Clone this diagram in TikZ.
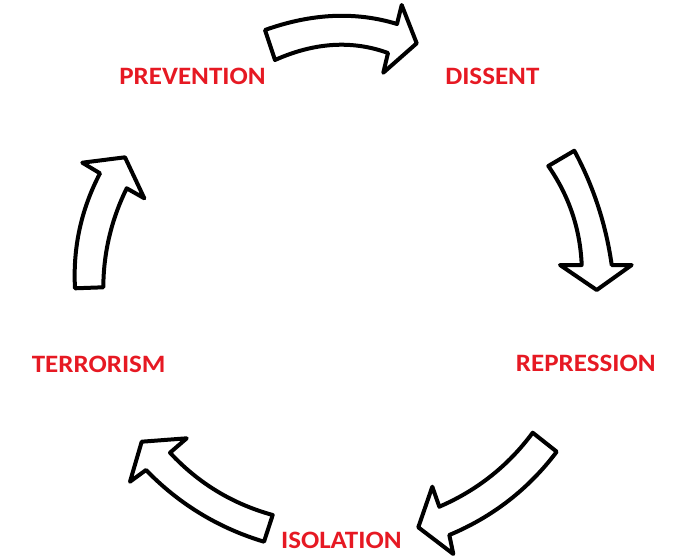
\documentclass[tikz,border=0pt]{standalone}
\usepackage{fontspec}
\setmainfont{Carlito}
\definecolor{stagered}{RGB}{230,25,35}
\begin{document}
\begin{tikzpicture}[x=1pt,y=-1pt,
                    stage/.style={text=stagered,font=\fontsize{25}{25}\selectfont\bfseries,xscale=1.08,inner sep=0pt},
                    bigarrow/.style={draw=black,fill=white,line width=4pt,line join=round}]
                    \useasboundingbox (0,0) rectangle (685,559);
                    \node[stage] (prevention) at (192.5,76) {PREVENTION};
                    \node[stage] (dissent) at (492.3,76) {DISSENT};
                    \node[stage] (repression) at (585.7,363) {REPRESSION};
                    \node[stage] (isolation) at (341.3,540) {ISOLATION};
                    \node[stage] (terrorism) at (98.7,364) {TERRORISM};
                    % prevention -> dissent
                    \draw[bigarrow] (265,30) .. controls (311.7,13.3) and (355.7,11.3) .. (397,24)
                        -- (401.7,5) -- (416.7,43.3) -- (383.3,72.7) -- (388,53)
                        .. controls (352.3,40) and (314.7,42.3) .. (275,60) -- cycle;
                    % dissent -> repression
                    \draw[bigarrow] (548.3,166) .. controls (569,195.8) and (580.2,228.8) .. (581.7,265)
                        -- (560,265) -- (596.7,290) -- (631.7,265) -- (611.7,265)
                        .. controls (606,224.7) and (593.6,186.6) .. (574.3,150.7) -- cycle;
                    % repression -> isolation
                    \draw[bigarrow] (556.7,451.7) .. controls (528.4,489.2) and (492.6,516.9) .. (449.3,535)
                        -- (453.3,554) -- (418.3,527.3) -- (432.3,486.7) -- (439.3,506.7)
                        .. controls (477.1,490.4) and (508.2,465.8) .. (532.7,432.7) -- cycle;
                    % isolation -> terrorism
                    \draw[bigarrow] (272.7,515) .. controls (232.6,504) and (198.3,483.2) .. (170,452.7)
                        -- (186.7,438.3) -- (141.7,441.7) -- (130,481.7) -- (146,470)
                        .. controls (179.1,504.1) and (218.4,528) .. (264,541.7) -- cycle;
                    % terrorism -> prevention
                    \draw[bigarrow] (75,288.3) .. controls (72.8,247.7) and (81.1,209.4) .. (100,173.3)
                        -- (82.3,162.7) -- (125,157.3) -- (144.3,198.3) -- (126.7,188.3)
                        .. controls (111.3,219.7) and (103.5,252.7) .. (103.3,287.3) -- cycle;
\end{tikzpicture}
\end{document}
